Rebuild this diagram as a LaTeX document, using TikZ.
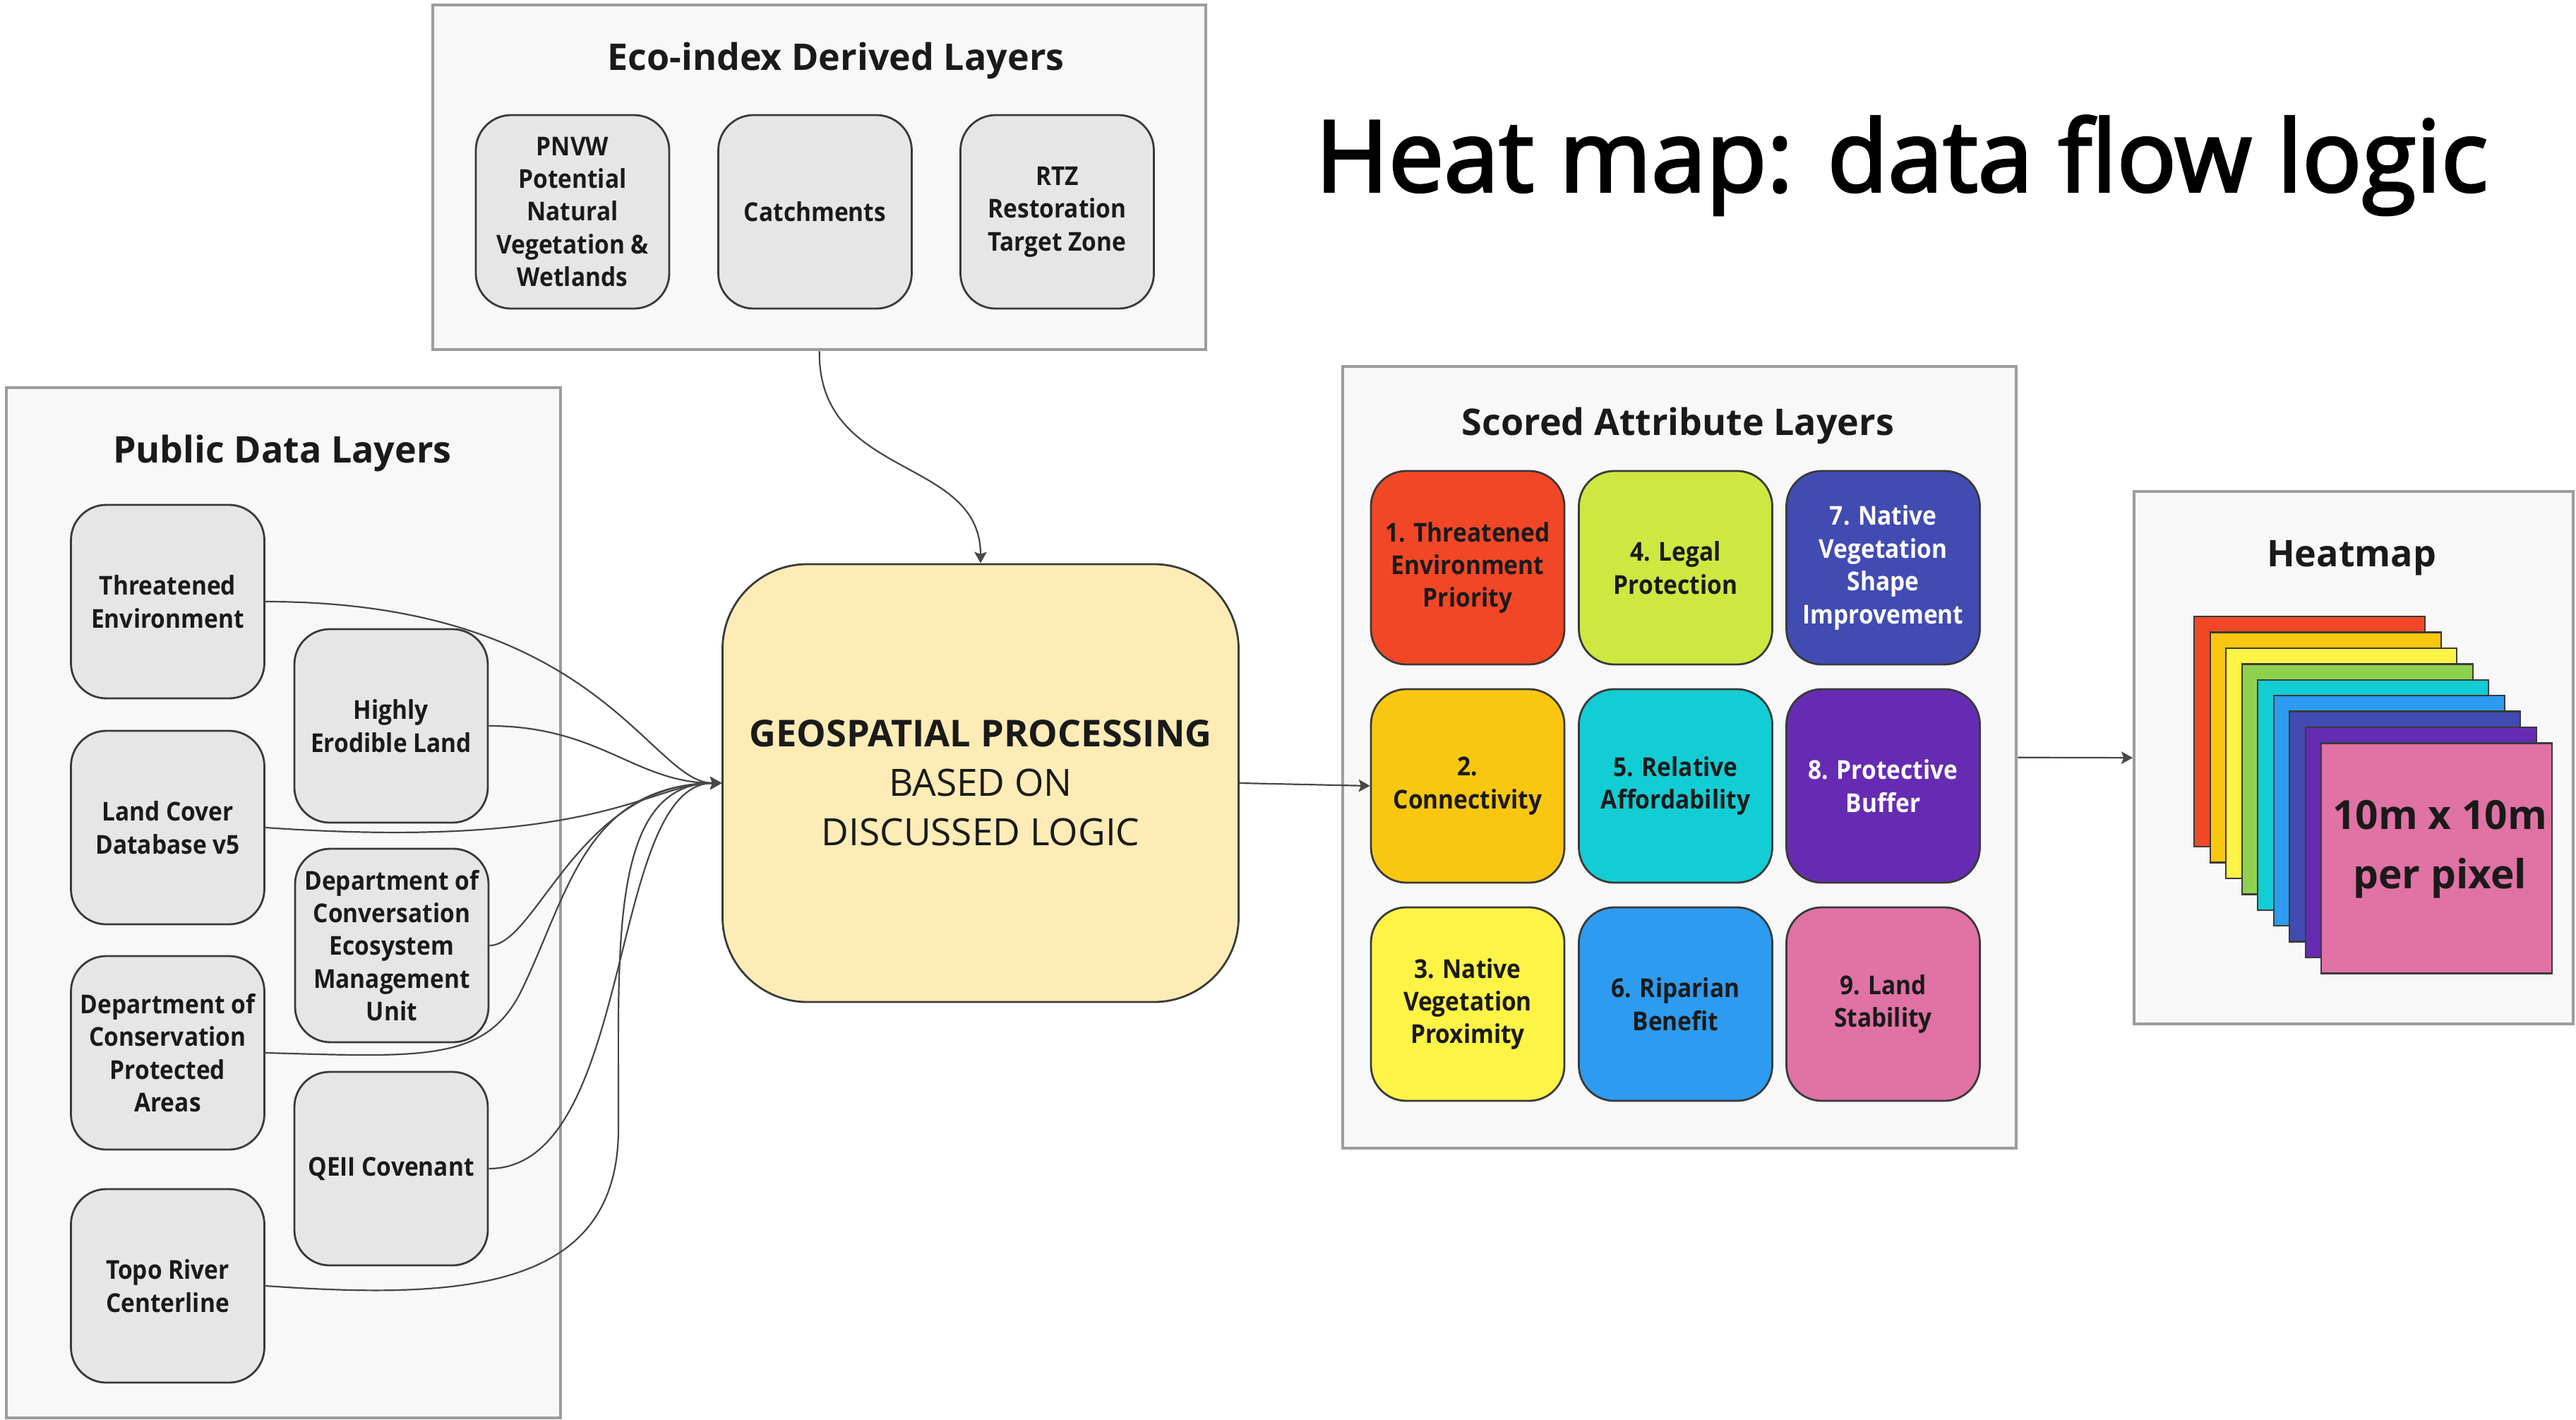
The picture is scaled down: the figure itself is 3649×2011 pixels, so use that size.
\documentclass[tikz,border=0pt]{standalone}
\usepackage{fontspec}
\setmainfont{Open Sans}
% bold face set a little narrower for the box labels
\newfontfamily\semifont[FakeStretch=0.91]{Open Sans Bold}
\usetikzlibrary{arrows.meta}

% fill and outline the glyphs, which thickens the strokes of the heading
\newcommand\heavytext[2]{\special{pdf:literal direct 2 Tr #1 w}#2\special{pdf:literal direct 0 Tr}}

\definecolor{panel}{HTML}{F8F8F8}
\definecolor{panelline}{HTML}{9C9C9C}
\definecolor{srcfill}{HTML}{E6E6E6}
\definecolor{edge}{HTML}{3A3A3A}
\definecolor{ink}{HTML}{1A1A1A}
\definecolor{wire}{HTML}{474747}
\definecolor{geofill}{HTML}{FDECB6}
\definecolor{cRed}{HTML}{F24726}
\definecolor{cOrange}{HTML}{FAC710}
\definecolor{cYellow}{HTML}{FEF445}
\definecolor{cLime}{HTML}{CEE741}
\definecolor{cGreen}{HTML}{8FD14F}
\definecolor{cCyan}{HTML}{12CDD4}
\definecolor{cBlue}{HTML}{2D9BF0}
\definecolor{cIndigo}{HTML}{414BB2}
\definecolor{cPurple}{HTML}{652CB3}
\definecolor{cPink}{HTML}{E072A4}

\newcommand\boxlabelfont{\semifont\fontsize{9.2}{11.6}\selectfont}
\newcommand\paneltitlefont{\bfseries\fontsize{13}{16}\selectfont}

\tikzset{
  panelbox/.style={draw=panelline, fill=panel, line width=1.1pt, inner sep=0pt,
    anchor=north west},
  paneltitle/.style={anchor=base, text=ink, font=\paneltitlefont, inner sep=0pt},
  srcbox/.style={draw=edge, fill=srcfill, line width=0.7pt, rounded corners=12.5pt,
    minimum width=68.5pt, minimum height=68.5pt, align=center, text=ink,
    font=\boxlabelfont, inner sep=1pt},
  scorebox/.style={srcbox, fill=#1},
  layer/.style={draw=edge, line width=0.6pt, anchor=north west, inner sep=0pt,
    minimum width=81.75pt, minimum height=81.5pt, fill=#1},
  wireline/.style={draw=wire, line width=0.55pt,
    -{Stealth[length=4pt,width=4.4pt,inset=0.8pt]}},
}

\begin{document}
\begin{tikzpicture}[x=0.25pt,y=-0.25pt]
\useasboundingbox (0,0) rectangle (3649,2011);
\fill[white] (0,0) rectangle (3649,2011);

% main heading
\node[anchor=base, inner sep=0pt, text=black, font=\fontsize{35}{40}\selectfont]
  (heading) at (2694,271) {\heavytext{0.9}{Heat map: data flow logic}};

% ---------- panels ----------
\node[panelbox, minimum width=273.75pt, minimum height=122pt] (eco) at (611,5) {};
\node[panelbox, minimum width=196.25pt, minimum height=364.75pt] (pub) at (7,547) {};
\node[panelbox, minimum width=238.5pt, minimum height=276.75pt] (scored) at (1900,517) {};
\node[panelbox, minimum width=155.5pt, minimum height=188.5pt] (heat) at (3021,694) {};

\node[paneltitle] (ecoT) at (1184,100) {Eco-index Derived Layers};
\node[paneltitle] (pubT) at (400,655) {Public Data Layers};
\node[paneltitle] (scoredT) at (2377,616) {Scored Attribute Layers};
\node[paneltitle] (heatT) at (3331,802) {Heatmap};

% ---------- eco-index derived layers ----------
\node[srcbox] (pnvw) at (811,300) {PNVW\\Potential\\Natural\\Vegetation \&\\Wetlands};
\node[srcbox] (catch) at (1154.5,300) {Catchments};
\node[srcbox] (rtz) at (1497.5,300) {RTZ\\Restoration\\Target Zone};

% ---------- public data layers ----------
\node[srcbox] (te) at (237.5,852) {Threatened\\Environment};
\node[srcbox] (he) at (554,1028) {Highly\\Erodible Land};
\node[srcbox] (lc) at (237.5,1172) {Land Cover\\Database v5};
\node[srcbox] (dcem) at (555,1339) {Department of\\Conversation\\Ecosystem\\Management\\Unit};
\node[srcbox] (dcpa) at (237.5,1491) {Department of\\Conservation\\Protected\\Areas};
\node[srcbox] (qe) at (554,1655) {QEII Covenant};
\node[srcbox] (tr) at (237.5,1821) {Topo River\\Centerline};

% ---------- processing ----------
\node[draw=edge, fill=geofill, line width=0.7pt, rounded corners=30pt,
  minimum width=182.75pt, minimum height=155pt, align=center, text=ink,
  font=\fontsize{13.3}{17.5}\selectfont] (geo) at (1389,1109)
  {{\fontsize{13.1}{17.5}\selectfont\bfseries GEOSPATIAL PROCESSING}\\BASED ON\\DISCUSSED LOGIC};

% ---------- scored attribute layers ----------
\node[scorebox=cRed] (s1) at (2079,804) {1. Threatened\\Environment\\Priority};
\node[scorebox=cOrange] (s2) at (2079,1113) {2.\\Connectivity};
\node[scorebox=cYellow] (s3) at (2079,1422) {3. Native\\Vegetation\\Proximity};
\node[scorebox=cLime] (s4) at (2373.5,804) {4. Legal\\Protection};
\node[scorebox=cCyan] (s5) at (2373.5,1113) {5. Relative\\Affordability};
\node[scorebox=cBlue] (s6) at (2373.5,1422) {6. Riparian\\Benefit};
\node[scorebox=cIndigo, text=white] (s7) at (2667.5,804) {7. Native\\Vegetation\\Shape\\Improvement};
\node[scorebox=cPurple, text=white] (s8) at (2667.5,1113) {8. Protective\\Buffer};
\node[scorebox=cPink] (s9) at (2667.5,1422) {9. Land\\Stability};

% ---------- heatmap stack ----------
\foreach \c [count=\i from 0] in {cRed,cOrange,cYellow,cGreen,cCyan,cBlue,cIndigo,cPurple,cPink}
  \node[layer=\c] (L\i) at ({3107+22.5*\i},{872+22.4*\i}) {};
\node[align=center, text=ink, inner sep=0pt,
  font=\bfseries\fontsize{14.2}{21}\selectfont] (pxlabel) at (3456,1203)
  {10m x 10m\\per pixel};

% ---------- connectors ----------
\draw[wireline] (eco.south) .. controls (1158.5,680) and (1389,645) .. (geo.north);

\draw[wireline] (te.east) .. controls (850,852) and (920,1109) .. (geo.west);
\draw[wireline] (he.east) .. controls (850,1028) and (900,1109) .. (geo.west);
\draw[wireline] (lc.east) .. controls (850,1205) and (920,1109) .. (geo.west);
\draw[wireline] (dcem.east) .. controls (760,1339) and (820,1109) .. (geo.west);
\draw[wireline] (dcpa.east) .. controls (600,1497) and (690,1505) .. (740,1400)
  .. controls (805,1265) and (830,1112) .. (geo.west);
\draw[wireline] (qe.east) .. controls (900,1655) and (860,1109) .. (geo.west);
\draw[wireline] (tr.east) .. controls (650,1840) and (875,1830) .. (876,1600)
  .. controls (877,1350) and (860,1109) .. (geo.west);

\draw[wireline] (geo.east) -- (s2.west);
\draw[wireline] (scored.east) -- (heat.west);
\end{tikzpicture}
\end{document}
